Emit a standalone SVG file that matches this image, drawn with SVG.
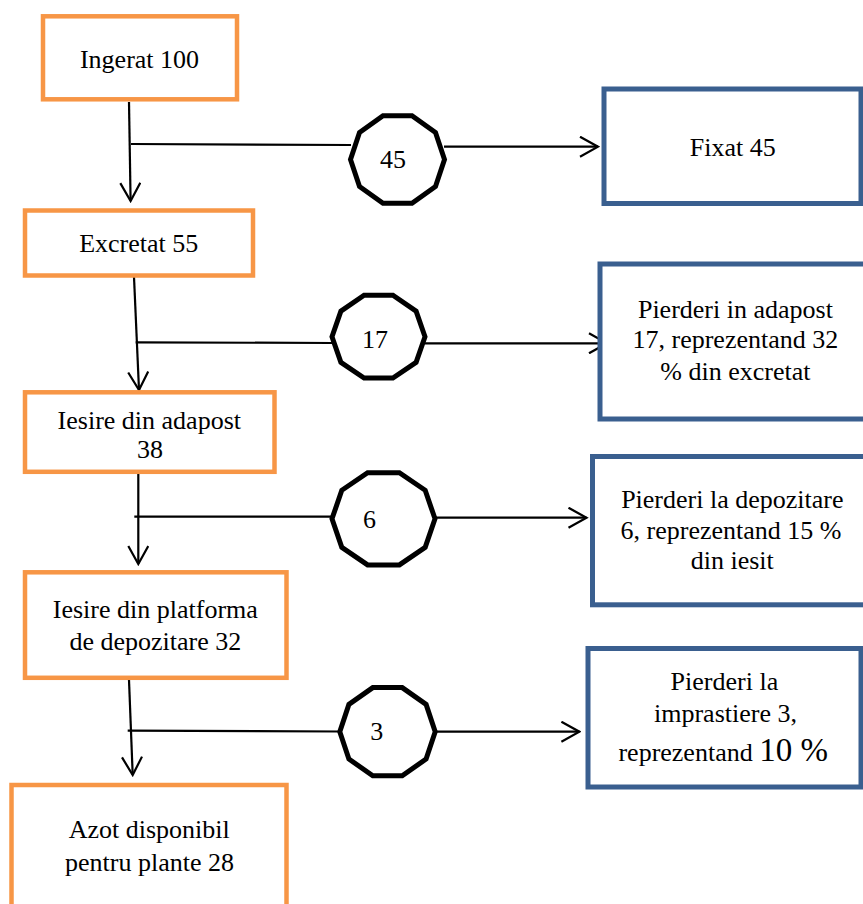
<svg xmlns="http://www.w3.org/2000/svg" width="863" height="904" viewBox="0 0 863 904">
<style>
.bg{fill:#ffffff}
.ob{fill:#ffffff;stroke:#F79646;stroke-width:4.5}
.bb{fill:#ffffff;stroke:#3A5F8F;stroke-width:5}
.dec{fill:#ffffff;stroke:#000000;stroke-width:5;stroke-linejoin:miter}
.ln{fill:none;stroke:#000000;stroke-width:2.2}
.t{font-family:'Liberation Serif','Tinos','Times New Roman','Times','Noto Serif','DejaVu Serif',serif;font-size:26px;fill:#000000;text-anchor:middle}
</style>
<defs>
<marker id="arr" viewBox="0 0 22 22" refX="20" refY="11" markerWidth="22" markerHeight="22" markerUnits="userSpaceOnUse" orient="auto">
<path d="M2,1 L20,11 L2,21" fill="none" stroke="#000000" stroke-width="2.2"/>
</marker>
</defs>
<rect class="bg" x="0" y="0" width="863" height="904"/>
<g id="connectors">
<path class="ln" d="M129,102 L130.6,201" marker-end="url(#arr)"/>
<path class="ln" d="M131,144 L351,145"/>
<path class="ln" d="M444,146.7 L598,146.7" marker-end="url(#arr)"/>
<path class="ln" d="M134,277 L139,390" marker-end="url(#arr)"/>
<path class="ln" d="M135.7,342.3 L332,343"/>
<path class="ln" d="M425,343.3 L607,343.3" marker-end="url(#arr)"/>
<path class="ln" d="M138.3,474 L138.3,564" marker-end="url(#arr)"/>
<path class="ln" d="M134.3,516.7 L332,516.7"/>
<path class="ln" d="M435,517.7 L586.5,517.7" marker-end="url(#arr)"/>
<path class="ln" d="M129,680 L132.7,775" marker-end="url(#arr)"/>
<path class="ln" d="M127.7,730.7 L340,731.5"/>
<path class="ln" d="M435,731.7 L579.4,731.7" marker-end="url(#arr)"/>
</g>
<g id="ingerat">
<rect class="ob" x="43" y="16.3" width="194" height="83"/>
<text class="t" x="139.5" y="68">Ingerat 100</text>
</g>
<g id="excretat">
<rect class="ob" x="25" y="210.5" width="228" height="65"/>
<text class="t" x="138.7" y="252">Excretat 55</text>
</g>
<g id="iesire-adapost">
<rect class="ob" x="25" y="392.3" width="249.5" height="79.5"/>
<text class="t" x="149.3" y="429.3">Iesire din adapost</text>
<text class="t" x="150" y="458.3">38</text>
</g>
<g id="iesire-platforma">
<rect class="ob" x="25" y="572.3" width="261.5" height="105.5"/>
<text class="t" x="155.3" y="618.3">Iesire din platforma</text>
<text class="t" x="155.3" y="650">de depozitare 32</text>
</g>
<g id="azot">
<rect class="ob" x="11.5" y="785" width="275" height="135"/>
<text class="t" x="149.2" y="838.3">Azot disponibil</text>
<text class="t" x="149.5" y="870.7">pentru plante 28</text>
</g>
<g id="dec45">
<polygon class="dec" points="444.5,159.5 435.5,132.5 412,115.8 383,115.8 359.5,132.5 350.5,159.5 359.5,186.5 383,203.2 412,203.2 435.5,186.5"/>
<text class="t" x="393" y="168">45</text>
</g>
<g id="dec17">
<polygon class="dec" points="425,336.7 416.1,311.1 392.9,295.3 364.1,295.3 340.9,311.1 332,336.7 340.9,362.3 364.1,378.1 392.9,378.1 416.1,362.3"/>
<text class="t" x="375" y="348">17</text>
</g>
<g id="dec6">
<polygon class="dec" points="435,518.8 425.2,490.3 399.4,472.7 367.6,472.7 341.8,490.3 332,518.8 341.8,547.3 367.6,564.9 399.4,564.9 425.2,547.3"/>
<text class="t" x="369.5" y="528.3">6</text>
</g>
<g id="dec3">
<polygon class="dec" points="435.2,731.7 426.1,704.4 402.2,687.6 372.8,687.6 348.9,704.4 339.8,731.7 348.9,759 372.8,775.8 402.2,775.8 426.1,759"/>
<text class="t" x="376.7" y="740">3</text>
</g>
<g id="fixat">
<rect class="bb" x="604" y="89" width="257" height="114.5"/>
<text class="t" x="732.7" y="156">Fixat 45</text>
</g>
<g id="pierderi-adapost">
<rect class="bb" x="600" y="264" width="280" height="155"/>
<text class="t" x="735.4" y="318.3">Pierderi in adapost</text>
<text class="t" x="735.4" y="348.3">17, reprezentand 32</text>
<text class="t" x="735.4" y="380">% din excretat</text>
</g>
<g id="pierderi-depozitare">
<rect class="bb" x="592.5" y="456.5" width="290" height="148.3"/>
<text class="t" x="732.3" y="508.3">Pierderi la depozitare</text>
<text class="t" x="731" y="539.3">6, reprezentand 15 %</text>
<text class="t" x="732.3" y="569.3">din iesit</text>
</g>
<g id="pierderi-imprastiere">
<rect class="bb" x="588" y="648.5" width="273" height="138.5"/>
<text class="t" x="724.4" y="690">Pierderi la</text>
<text class="t" x="725.5" y="721.7">imprastiere 3,</text>
<text class="t" x="723.2" y="760.7">reprezentand <tspan font-size="33">10 %</tspan></text>
</g>
</svg>
